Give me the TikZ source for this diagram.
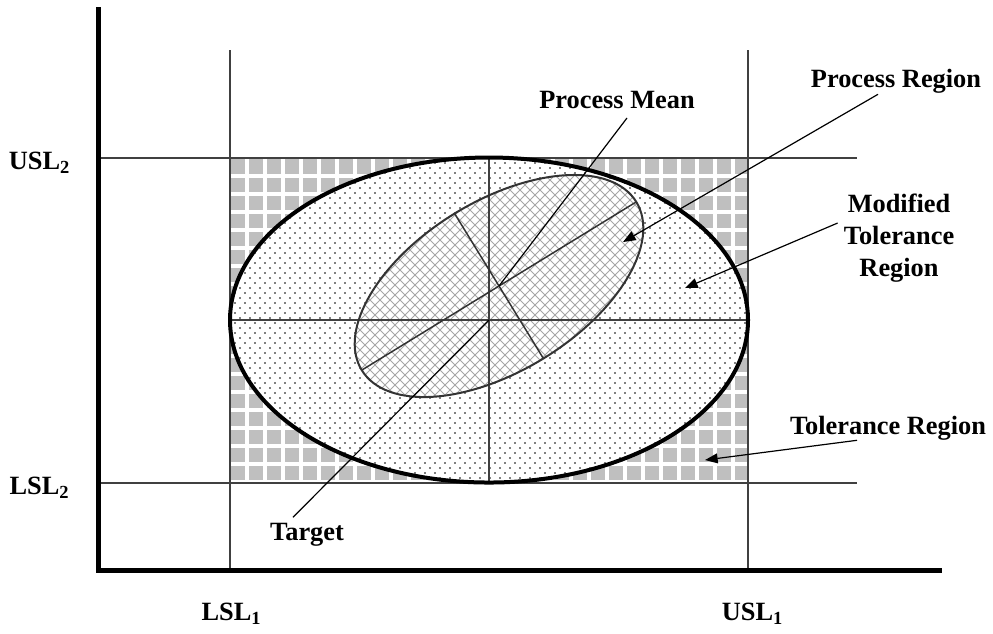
\documentclass[tikz,border=0pt]{standalone}
\usepackage{fontspec}
\setmainfont{Liberation Serif}
\usetikzlibrary{arrows.meta,calc}

\tikzset{
  lbl/.style={font=\bfseries\fontsize{7.5}{9.1}\selectfont,inner sep=1pt},
  guide/.style={black!75,line width=0.15mm},
  leader/.style={black,line width=0.12mm},
  pointer/.style={leader,-{Triangle[length=3.6pt,width=2.8pt]}},
}

\begin{document}
\begin{tikzpicture}[x=0.1mm,y=-0.1mm]

  % Canvas in pixel units, y running downwards.
  \useasboundingbox (0,0) rectangle (993,633);

  \def\lslA{230} \def\uslA{748}
  \def\uslB{158} \def\lslB{483}
  \def\cx{489} \def\cy{320}
  \def\rx{259} \def\ry{162.5}
  \def\px{499} \def\py{286}

  % --- Tolerance region: grey tiles ---
  \begin{scope}
    \clip (\lslA,\uslB) rectangle (\uslA,\lslB);
    \fill[black!25] (\lslA,\uslB) rectangle (\uslA,\lslB);
    \foreach \gx in {247,265,...,760}
      \draw[white,line width=0.32mm] (\gx,\uslB) -- (\gx,\lslB);
    \foreach \gy in {176,194,...,490}
      \draw[white,line width=0.32mm] (\lslA,\gy) -- (\uslA,\gy);
  \end{scope}

  % --- Modified tolerance region: dotted ellipse ---
  \begin{scope}
    \fill[white] (\cx,\cy) ellipse [x radius=\rx, y radius=\ry];
    \clip (\cx,\cy) ellipse [x radius=\rx, y radius=\ry];
    \foreach \dy in {0,10,...,330} {
      \foreach \dx in {0,10,...,520} {
        \fill (230+\dx,158+\dy) circle (0.9);
        \fill (235+\dx,163+\dy) circle (0.9);
      }
    }
  \end{scope}

  % --- Process region: cross-hatched, tilted ellipse ---
  \begin{scope}
    \clip[shift={(\px,\py)},rotate=31.5] (0,0) ellipse [x radius=161, y radius=85];
    \fill[white] (330,160) rectangle (670,410);
    \foreach \hx in {80,90,...,920} {
      \draw[black!35,line width=0.1mm] (\hx,150) -- ++(270,270);
      \draw[black!35,line width=0.1mm] (\hx,150) -- ++(-270,270);
    }
  \end{scope}

  % --- Specification limits and centre lines ---
  \draw[guide] (\lslA,50) -- (\lslA,570);
  \draw[guide] (\uslA,50) -- (\uslA,570);
  \draw[guide] (98,\uslB) -- (857,\uslB);
  \draw[guide] (98,\lslB) -- (857,\lslB);
  \draw[guide] (\cx,\uslB) -- (\cx,\lslB);
  \draw[guide] (\lslA,\cy) -- (\uslA,\cy);

  % --- Ellipse outlines and process axes ---
  \draw[line width=0.4mm] (\cx,\cy) ellipse [x radius=\rx, y radius=\ry];
  \begin{scope}[shift={(\px,\py)},rotate=31.5]
    \draw[black!80,line width=0.2mm] (0,0) ellipse [x radius=161, y radius=85];
    \draw[black!80,line width=0.15mm] (-161,0) -- (161,0);
    \draw[black!80,line width=0.15mm] (0,-85) -- (0,85);
  \end{scope}

  \coordinate (pmean) at (\px,\py);
  \coordinate (target) at (\cx,\cy);
  \coordinate (preg) at (623,242);
  \coordinate (pmod) at (685,288);
  \coordinate (ptol) at (705,460);

  % --- Axes ---
  \draw[line width=0.5mm] (98,7) |- (942,570);

  % --- Limit labels ---
  \node[lbl] (usl2) at (40,163) {USL\textsubscript{2}};
  \node[lbl] (lsl2) at (40,488) {LSL\textsubscript{2}};
  \node[lbl] (lsl1) at (232,614) {LSL\textsubscript{1}};
  \node[lbl] (usl1) at (753,614) {USL\textsubscript{1}};

  % --- Region labels and leaders ---
  \node[lbl] (lblmean) at (617,100) {Process Mean};
  \node[lbl] (lblpreg) at (896,81) {Process Region};
  \node[lbl,align=center] (lblmod) at (899,238) {Modified\\Tolerance\\Region};
  \node[lbl] (lbltol) at (888,428) {Tolerance Region};
  \node[lbl] (lbltarget) at (307,535) {Target};

  \draw[leader] ($(lblmean.south)+(10,5)$) -- (pmean);
  \draw[leader] ($(lbltarget.north)+(-14,-2)$) -- (target);
  \draw[pointer] ($(lblpreg.south)+(-18,-3)$) -- (preg);
  \draw[pointer] ($(lblmod.west)+(-2,-15)$) -- (pmod);
  \draw[pointer] ($(lbltol.south)+(-31,-4)$) -- (ptol);

\end{tikzpicture}
\end{document}
